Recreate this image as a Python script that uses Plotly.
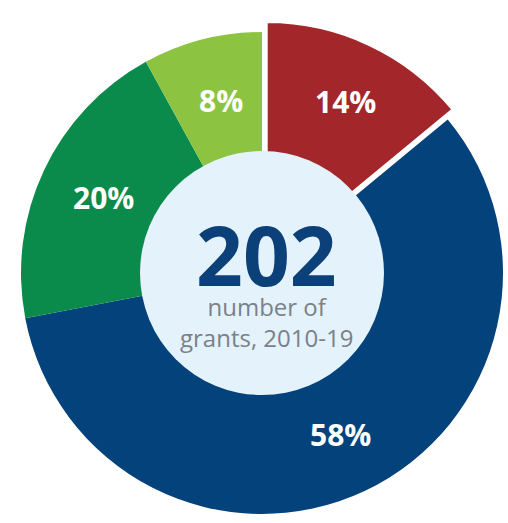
import math
import plotly.graph_objects as go

# ---- data ----
categories = ["Red", "Blue", "Green", "Light green"]
shares = [14, 58, 20, 8]            # percent of grants
colors = ["#A3262A", "#04427B", "#0A8A4B", "#8CC340"]
total_grants = 202
caption_lines = ["number of", "grants, 2010-19"]
pulled_index = 0

# ---- layout geometry (pixels) ----
W, H = 508, 523
cx, cy = 262, 273          # ring centre, from top-left
R = 241                    # outer radius
pull_px = 11               # offset of the pulled slice
circle_r = 122             # light centre disc
label_frac = 0.74          # label distance as a fraction of R

def domain(cx_px, cy_px, r):
    return dict(x=[(cx_px - r) / W, (cx_px + r) / W],
                y=[(H - cy_px - r) / H, (H - cy_px + r) / H])

total = sum(shares)
mids = []
acc = 0
for v in shares:
    mids.append(math.radians((acc + v / 2) / total * 360))
    acc += v

pmid = mids[pulled_index]
pcx = cx + pull_px * math.sin(pmid)
pcy = cy - pull_px * math.cos(pmid)

transparent = "rgba(0,0,0,0)"

common = dict(labels=categories, values=shares, sort=False, direction="clockwise",
              rotation=0, textinfo="none", hoverinfo="skip", showlegend=False)

# main ring (pulled slice left empty)
ring_colors = [transparent if i == pulled_index else c for i, c in enumerate(colors)]
trace_ring = go.Pie(**common, hole=0.5,
                    marker=dict(colors=ring_colors, line=dict(width=0)),
                    domain=domain(cx, cy, R))

# pulled slice, drawn from its shifted centre
p_colors = [c if i == pulled_index else transparent for i, c in enumerate(colors)]
p_lw = [2 if i == pulled_index else 0 for i in range(len(shares))]
trace_pull = go.Pie(**common, hole=0.4,
                    marker=dict(colors=p_colors, line=dict(width=p_lw, color="white")),
                    domain=domain(pcx, pcy, R))

fig = go.Figure([trace_ring, trace_pull])

annotations = []
for i, v in enumerate(shares):
    ox, oy = (pcx, pcy) if i == pulled_index else (cx, cy)
    lx = ox + label_frac * R * math.sin(mids[i]) + 3
    ly = oy - label_frac * R * math.cos(mids[i])
    annotations.append(dict(text=f"<b>{v}%</b>", xref="paper", yref="paper",
                            x=lx / W, y=(H - ly) / H, showarrow=False,
                            xanchor="center", yanchor="middle",
                            font=dict(family="Open Sans", size=30, color="white")))

annotations.append(dict(text=f"<b>{total_grants}</b>", xref="paper", yref="paper",
                        x=(cx + 4) / W, y=(H - 254) / H, showarrow=False,
                        xanchor="center", yanchor="middle",
                        font=dict(family="Open Sans", size=82, color="#0C4079")))
annotations.append(dict(text="<br>".join(caption_lines), xref="paper", yref="paper",
                        x=(cx + 4) / W, y=(H - 322) / H, showarrow=False,
                        xanchor="center", yanchor="middle", align="center",
                        font=dict(family="Open Sans", size=24, color="#7B8188")))

fig.update_layout(
    width=W, height=H, margin=dict(l=0, r=0, t=0, b=0),
    paper_bgcolor="white", plot_bgcolor="white",
    shapes=[dict(type="circle", xref="paper", yref="paper", layer="above",
                 x0=(cx - circle_r) / W, x1=(cx + circle_r) / W,
                 y0=(H - cy - circle_r) / H, y1=(H - cy + circle_r) / H,
                 fillcolor="#E3F2FB", line=dict(width=0))],
    annotations=annotations,
)

fig.write_html("out.html")
